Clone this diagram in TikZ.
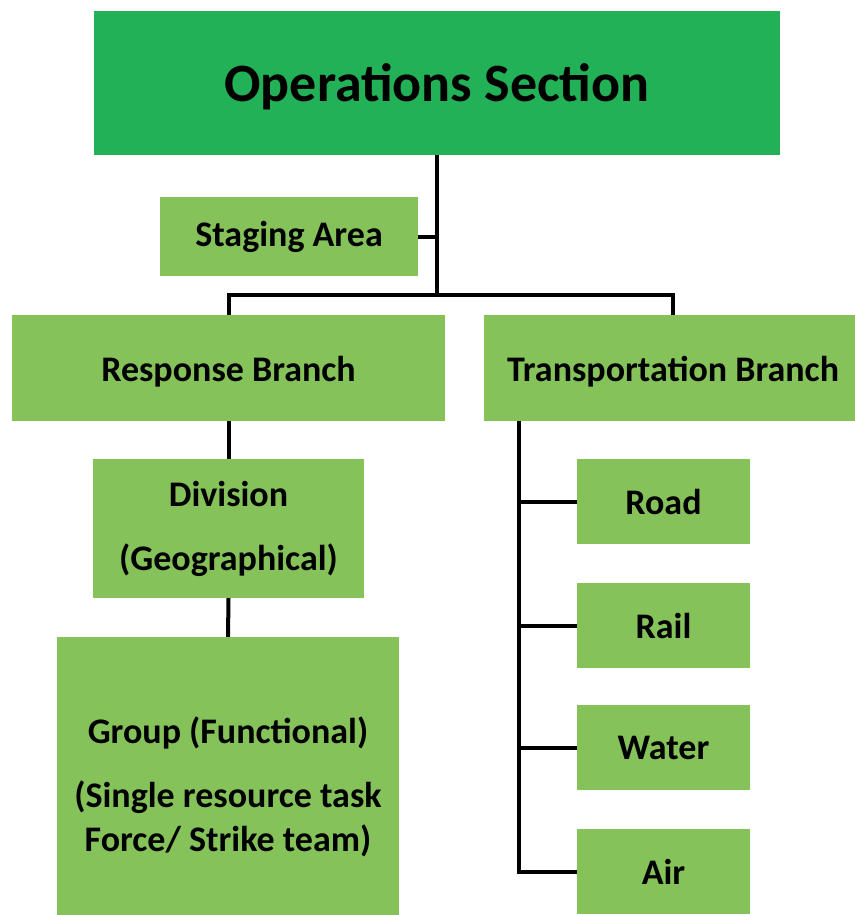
\documentclass[tikz,border=0pt]{standalone}
\usepackage{fontspec}
\setmainfont{Carlito}
\usetikzlibrary{positioning}
\definecolor{opsgreen}{RGB}{34,177,86}
\definecolor{unitgreen}{RGB}{133,195,90}
\tikzstyle{unit}  = [rectangle, fill=unitgreen, inner sep=0pt, align=center, font=\bfseries\fontsize{36}{44}\selectfont]
\tikzstyle{link}  = [line width=4pt, black]

\begin{document}
\begin{tikzpicture}[x=1pt, y=-1pt,
			head/.style={rectangle, fill=opsgreen, inner sep=0pt, minimum width=686pt, minimum height=144pt, text height=37pt, text depth=0pt, font=\bfseries\fontsize{54}{64}\selectfont},
			branch/.style={unit, minimum height=106pt, text height=27pt, text depth=0pt},
			mode/.style={unit, minimum width=173pt, minimum height=85pt}]
		\useasboundingbox (0,0) rectangle (854,915);

		\node[head] (ops) at (437,83) {Operations Section};
		\node[unit, minimum width=258pt, minimum height=79pt] (staging) at (289,236.5) {Staging Area};
		\node[branch, minimum width=433pt] (resp) at (228.5,368) {Response Branch};
		\node[branch, minimum width=378pt] (trans) at (673,368) {Transportation Branch};
		\node[unit, minimum width=271pt, minimum height=139pt] (division) at (228.5,528.5) {Division\\[20pt](Geographical)};
		\node[unit, minimum width=342pt, minimum height=300pt] (group) at (228,787) {Group (Functional)\\[20pt](Single resource task\\Force/ Strike team)};

		\node[mode] (road)  at (663.5,501.5) {Road};
		\node[mode] (rail)  at (663.5,625.5) {Rail};
		\node[mode] (water) at (663.5,747.5) {Water};
		\node[mode] (air)   at (663.5,871.5) {Air};

		% tree lines
		\coordinate (hub) at (437,295);
		\coordinate (spine) at (519,421);
		\draw[link] (ops.south) -- (hub);
		\draw[link] (staging.east) -- (staging.east -| hub);
		\draw[link] (resp.north) |- (hub) -| (trans.north);
		\draw[link] (resp.south) -- (division.north);
		\draw[link] (division.south) -- (group.north);
		\draw[link] (spine) |- (air.west);
		\foreach \m in {road,rail,water}
			\draw[link] (\m.west -| spine) -- (\m.west);
	\end{tikzpicture}
\end{document}
